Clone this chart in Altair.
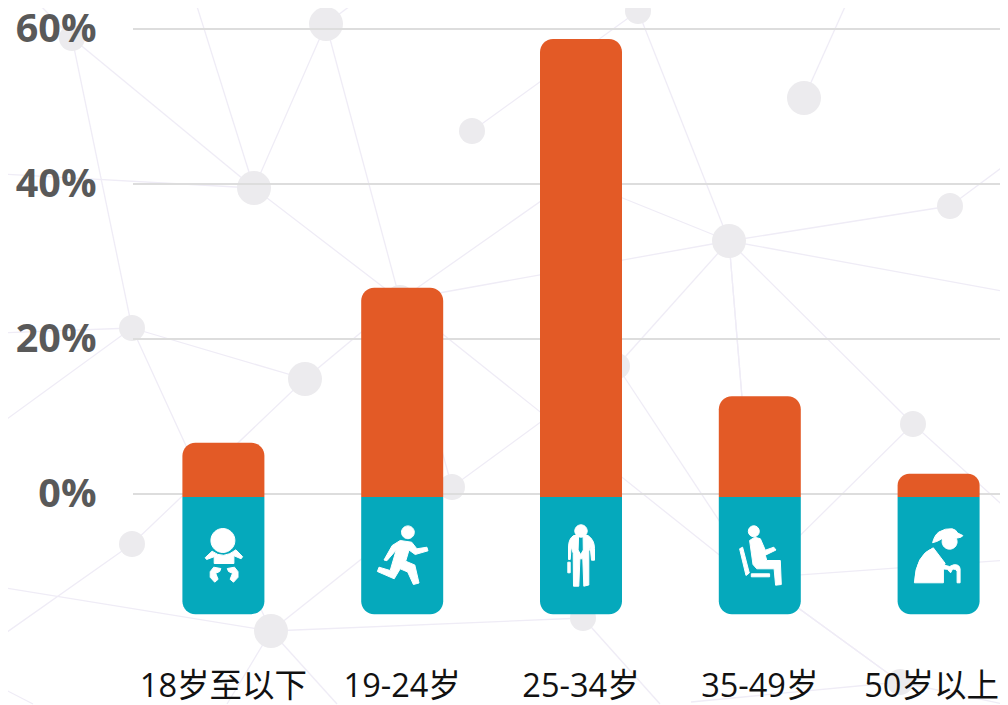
import altair as alt
import pandas as pd

# --- chart values ---
categories = ["18岁至以下", "19-24岁", "25-34岁", "35-49岁", "50岁以上"]
share = [6.6, 26.6, 58.7, 12.6, 2.6]
base_top = [-0.4, -0.4, -0.4, -0.4, -0.4]
base_bottom = [-15.5, -15.5, -15.5, -15.5, -15.5]
icon_level = [-8, -8, -8, -8, -8]
grid_values = [0, 20, 40, 60]

# --- decorative network in the background (image pixels) ---
node_x = [72, 326, 472, 254, 132, 305, 400, 638, 804, 729, 950, 617, 452, 132, 271, 583, 913, 900]
node_y = [38, 24, 131, 188, 328, 379, 300, 11, 98, 241, 206, 366, 487, 544, 631, 618, 424, 682]
node_d = [26, 34, 26, 34, 26, 34, 30, 26, 34, 34, 26, 26, 26, 26, 34, 26, 26, 26]

edge_x1 = [72, 72, 35, 195, 326, 326, 326, 472, 254, 254, 132, 132, 132, 132, 305, 305,
           400, 400, 400, 729, 729, 848, 729, 950, 729, 729, 729, 729, 729, 604, 757, 913,
           913, 617, 757, 271, 452, 271, 271, 132, 271, 271, 0, 583, 757, 900, 900, 997, 452]
edge_y1 = [38, 38, 0, 0, 24, 24, 24, 131, 188, 188, 328, 328, 328, 328, 379, 379,
           300, 300, 300, 241, 241, 0, 241, 206, 241, 241, 241, 241, 241, 0, 578, 424,
           424, 366, 578, 631, 487, 631, 631, 544, 631, 631, 687, 618, 578, 682, 682, 0, 487]
edge_x2 = [254, 132, 72, 254, 254, 400, 358, 638, 400, 0, 0, 305, 0, 271, 132, 400,
           578, 729, 757, 638, 950, 804, 1008, 1008, 578, 617, 757, 913, 757, 638, 1008, 1008,
           757, 757, 900, 0, 617, 583, 452, 0, 227, 337, 33, 660, 900, 691, 1008, 1008, 400]
edge_y2 = [188, 328, 38, 188, 188, 300, 0, 11, 300, 174, 333, 379, 424, 631, 544, 300,
           175, 241, 585, 11, 206, 98, 292, 163, 180, 366, 578, 424, 578, 11, 560, 510,
           578, 578, 682, 587, 366, 618, 487, 637, 704, 704, 704, 704, 682, 702, 705, 8, 300]

# --- pictogram outlines, in pixels around the icon's centre ---
def circle(cx, cy, r):
    return f"M{cx-r} {cy}A{r} {r} 0 1 1 {cx+r} {cy}A{r} {r} 0 1 1 {cx-r} {cy}Z"

baby = (circle(-0.5, -15.5, 12)
        + "M-18.2 1.7L-11.3-4.8Q0 4 12.5-6.2L19.2 .7 17.7 2.8 10.5-.3 10.5 7.5-9.2 7.5-9.2 .7-16.8 3.5Z"
        + "M-9.7 11.2L-2.5 12.5-3.7 15.5-7.7 17.3-5.3 23.3-8.7 26.2-13.2 21.3-13.2 15.7Z"
        + "M11.1 11.2L3.9 12.5 5.1 15.5 9.1 17.3 6.7 23.3 10.1 26.2 14.6 21.3 14.6 15.7Z")
runner = (circle(5.7, -23.7, 6.4)
          + "M-18.2 4L-10-10.5-2-15.5 9.5-13.8 14.7-7.2 24.7-8.8 25.8-5.2 13-1.5 6.8-6 3.5 5.2 12.6 9 16.8 27 "
            "11.2 28.5 5.5 16-2 12.8-8 22.8-24.8 15.5-23.2 11.2-12 14.5-6-6-15.3 4.7Z")
suit = (circle(0, -25, 6.2)
        + "M-7.4-20.5L7-20.5Q13.5-16 13.5-7.7L13.5 4.2 10.5 4.2 9.2-9.3 7.8-4.3 7.8 29 2.8 30.2 1.8 2.8-1.1 2.8-2.2 30.2"
          "-7.5 30.2-7.8-2.7-9.8-9.3-10.8 3.5-12.5 3.5-12.5-9Q-12.5-17-7.4-20.5Z"
        + "M-2.4-20L-2.9-6-.3-1.4 2.3-6 2.1-20Z"
        + "M-13.2 6.2L-10.8 6.2-10.8 16.8-13.2 16.8Z")
seated = (circle(-6, -24.7, 5.5)
          + "M-20.2-7.2L-17.2-8.8-10.5 17-13.8 19.5Z"
          + "M-8.5 17.8L9.8 17.8 9.8 20.8-8.5 20.8Z"
          + "M-10.2-15.5L-5-18.8 .6-17.2 5.5-5.8 14-8.8 16.2-6 5.5-.8 7 4.5 20.5 4.5 21.5 28.5 15.8 29.2 14.3 12.8"
            "-3 12.8-6.8 8.5Z")
elder = (circle(11, -14.3, 7.5)
         + "M-6-13.3Q-4-21 .3-24Q7-28 13.7-27.2Q18-26 19-23L24.2-20.5Q24-18.7 19-18L3-17Q-2-14-6-13.3Z"
         + "M-24.2 26.8Q-23-1.3-5.3-8.2L6.5 7.3 4.8 12.3 4.8 26.8Z"
         + "M5 9L11 10.5 15 8.8Q21 8 21.5 13L21.5 26.8 18.5 26.8 18.5 15Q17 12.8 14 13L12 16.8 8.7 13.3 5 13Z")
icons = [baby, runner, suit, seated, elder]

# --- tables ---
bars = pd.DataFrame({"cat": categories, "share": share, "base_top": base_top,
                     "base_bottom": base_bottom, "level": icon_level, "icon": icons})
nodes = pd.DataFrame({"x": node_x, "y": node_y, "size": [d * d for d in node_d]})
edges = pd.DataFrame({"x": edge_x1, "y": edge_y1, "x2": edge_x2, "y2": edge_y2})
grid = pd.DataFrame({"v": grid_values})

# --- scales ---
sx = alt.Scale(domain=[133, 1000], range=[0, 867])
sy = alt.Scale(domain=[29, 649], range=[0, 620])
cat_scale = alt.Scale(domain=categories, range=[1, 895], paddingInner=0, paddingOuter=0)
val_scale = alt.Scale(domain=[-20, 60], nice=False, zero=False)

# --- background ---
edge_layer = alt.Chart(edges).mark_rule(color="#efecf6", strokeWidth=1.3).encode(
    x=alt.X("x:Q", scale=sx, axis=None),
    x2="x2:Q",
    y=alt.Y("y:Q", scale=sy, axis=None),
    y2="y2:Q",
)
node_layer = alt.Chart(nodes).mark_point(shape="circle", filled=True, color="#ecebee", opacity=1).encode(
    x=alt.X("x:Q", scale=sx, axis=None),
    y=alt.Y("y:Q", scale=sy, axis=None),
    size=alt.Size("size:Q", scale=None, legend=None),
)
background = alt.layer(edge_layer, node_layer)

# --- foreground ---
x_axis = alt.Axis(title=None, domain=False, ticks=False, grid=False, labelAngle=0, zindex=1,
                  labelFont="Open Sans, Noto Sans CJK SC", labelFontSize=32.5, labelColor="#111111",
                  labelPadding=21, labelOverlap=False, labelBound=False, labelFlush=False,
                  labelOffset=alt.expr("datum.value == '50岁以上' ? -7 : 0"))
y_axis = alt.Axis(title=None, domain=False, ticks=False, grid=False, values=grid_values, zindex=1,
                  labelExpr="datum.value + '%'", labelFont="Open Sans", labelFontWeight="bold",
                  labelFontSize=39.5, labelColor="#595959", labelPadding=37)

grid_layer = alt.Chart(grid).mark_rule(color="#dddddd", strokeWidth=2).encode(
    y=alt.Y("v:Q", scale=val_scale, axis=y_axis),
)
orange = alt.Chart(bars).mark_bar(size=82, color="#e35a26", cornerRadiusTopLeft=13, cornerRadiusTopRight=13).encode(
    x=alt.X("cat:N", scale=cat_scale, sort=categories, axis=x_axis),
    y=alt.Y("share:Q", scale=val_scale),
    y2="base_top:Q",
)
teal = alt.Chart(bars).mark_bar(size=82, color="#05a9bc", cornerRadiusBottomLeft=13, cornerRadiusBottomRight=13).encode(
    x=alt.X("cat:N", scale=cat_scale, sort=categories),
    y=alt.Y("base_top:Q", scale=val_scale),
    y2="base_bottom:Q",
)
icon_layer = alt.Chart(bars).mark_point(filled=True, fill="white", stroke="white", strokeWidth=1,
                                        strokeJoin="round", opacity=1, size=4).encode(
    x=alt.X("cat:N", scale=cat_scale, sort=categories),
    y=alt.Y("level:Q", scale=val_scale),
    shape=alt.Shape("icon:N", scale=None, legend=None),
)
foreground = alt.layer(grid_layer, orange, teal, icon_layer)

chart = alt.layer(background, foreground).resolve_scale(x="independent", y="independent").properties(
    width=867,
    height=620,
    padding={"left": 125, "top": 21, "right": 0, "bottom": 56},
    autosize=alt.AutoSizeParams(type="none"),
    background="white",
).configure_view(stroke=None)

chart.save("out.html", embed_options={"renderer": "svg", "actions": False})
